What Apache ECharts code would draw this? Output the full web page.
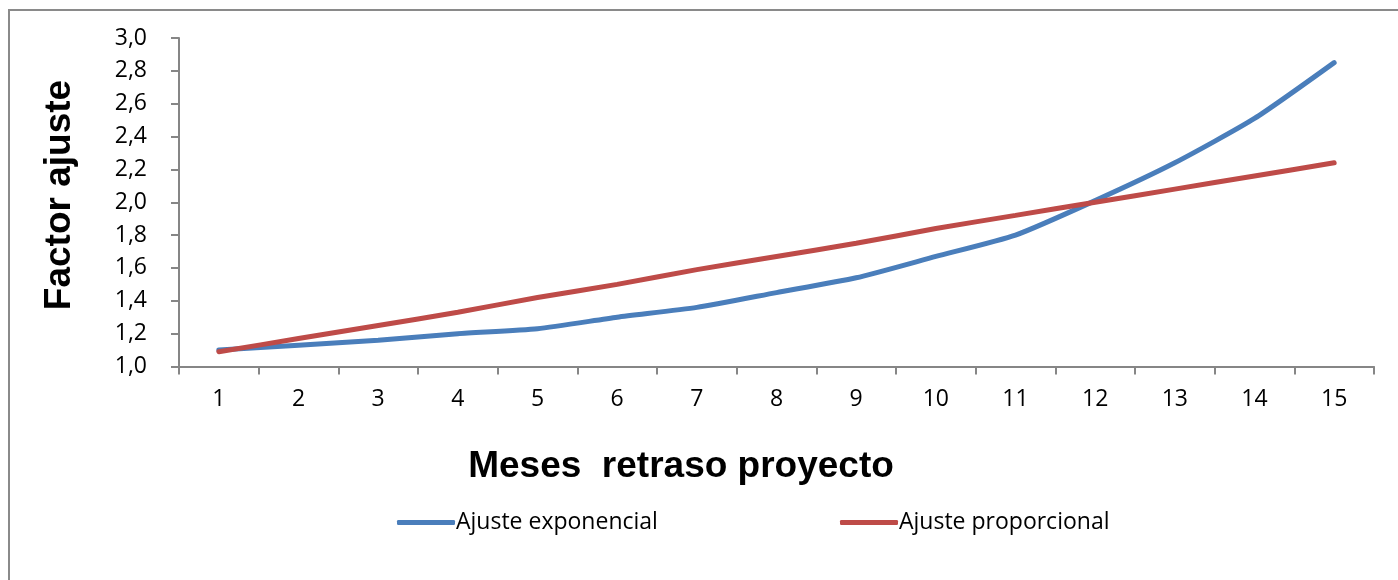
<!DOCTYPE html>
<html>
<head>
<meta charset="utf-8">
<script src="https://cdn.jsdelivr.net/npm/echarts@6/dist/echarts.min.js"></script>
<style>
html,body{margin:0;padding:0;background:#fff;}
#c{width:1398px;height:580px;}
</style>
</head>
<body>
<div id="c"></div>
<script>
const categories = ['1','2','3','4','5','6','7','8','9','10','11','12','13','14','15'];
const exponencial = [1.10,1.13,1.16,1.20,1.23,1.30,1.36,1.45,1.54,1.67,1.80,2.01,2.24,2.51,2.85];
const proporcional = [1.09,1.17,1.25,1.33,1.42,1.50,1.59,1.67,1.75,1.84,1.92,2.00,2.08,2.16,2.24];
const seriesNames = ['Ajuste exponencial','Ajuste proporcional'];
const xName = 'Meses  retraso proyecto';
const yName = 'Factor ajuste';

const chart = echarts.init(document.getElementById('c'), null, {renderer:'canvas'});
const labelFont = '"Open Sans", sans-serif';
const boldFont = '"Liberation Sans", Arial, sans-serif';
chart.setOption({
  animation:false,
  backgroundColor:'#fff',
  graphic:[
    {type:'rect', shape:{x:9,y:10,width:1500,height:700}, style:{fill:'none',stroke:'#8a8a8a',lineWidth:2}, z:-1},
    {type:'text', x:681, y:467, style:{text:xName, font:'bold 37px ' + boldFont, fill:'#000', align:'center', verticalAlign:'middle'}},
    {type:'text', x:60, y:195, rotation:Math.PI/2, style:{text:yName, font:'bold 37px ' + boldFont, fill:'#000', align:'center', verticalAlign:'middle'}}
  ],
  grid:{left:179,right:24,top:38,bottom:213.5,containLabel:false},
  legend:[
    {data:[seriesNames[0]], left:392, top:506, itemWidth:58, itemHeight:5, icon:'roundRect', itemGap:0,
     textStyle:{fontFamily:labelFont,fontSize:23,color:'#000',padding:[0,0,0,-4]}},
    {data:[seriesNames[1]], left:835, top:506, itemWidth:58, itemHeight:5, icon:'roundRect', itemGap:0,
     textStyle:{fontFamily:labelFont,fontSize:23,color:'#000',padding:[0,0,0,-4]}}
  ],
  xAxis:{
    type:'category', data:categories, boundaryGap:true,
    axisLine:{lineStyle:{color:'#868686',width:2}},
    axisTick:{show:true,length:8,lineStyle:{color:'#868686',width:2}},
    axisLabel:{color:'#000',fontFamily:labelFont,fontSize:23,margin:21}
  },
  yAxis:{
    type:'value', min:1, max:3, interval:0.2,
    axisLine:{show:true,lineStyle:{color:'#868686',width:2}},
    axisTick:{show:true,length:8,lineStyle:{color:'#868686',width:2}},
    splitLine:{show:false},
    axisLabel:{color:'#000',fontFamily:labelFont,fontSize:23,margin:32,
      formatter:v=>v.toFixed(1).replace('.',',')}
  },
  series:[
    {name:seriesNames[0], type:'line', data:exponencial, smooth:0.2, symbol:'none',
     lineStyle:{color:'#4a7ebb',width:5,cap:'round'}, itemStyle:{color:'#4a7ebb'}},
    {name:seriesNames[1], type:'line', data:proporcional, smooth:0.2, symbol:'none',
     lineStyle:{color:'#be4b48',width:5,cap:'round'}, itemStyle:{color:'#be4b48'}}
  ]
});
</script>
</body>
</html>
